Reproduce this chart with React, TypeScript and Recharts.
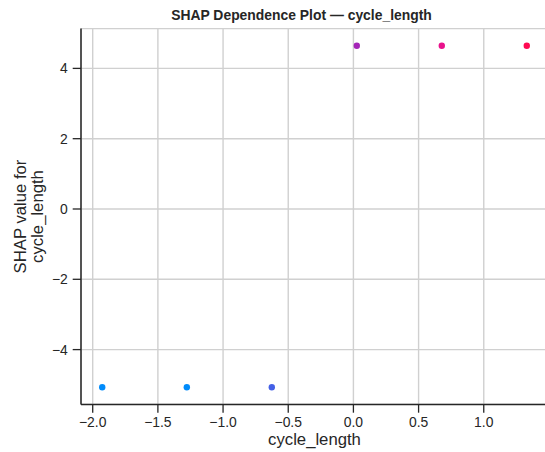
import React from "react";
import {
  ScatterChart,
  Scatter,
  XAxis,
  YAxis,
  CartesianGrid,
  Cell,
} from "recharts";

// Standardised cycle_length values and their SHAP contributions
const featureValues = [-1.927, -1.278, -0.626, 0.026, 0.678, 1.33];
const shapValues = [-5.073, -5.073, -5.073, 4.646, 4.646, 4.646];
// Colour of each point (interaction feature, blue = low, red = high)
const pointColors = ["#008bfb", "#008bfb", "#4460e6", "#a526b8", "#e9128c", "#ff0a52"];

const xTicks = [-2, -1.5, -1, -0.5, 0, 0.5, 1];
const yTicks = [-4, -2, 0, 2, 4];

const titleText = "SHAP Dependence Plot — cycle_length";
const xLabel = "cycle_length";
const yLabelLines = ["SHAP value for", "cycle_length"];

const data = featureValues.map((x, i) => ({ x, y: shapValues[i] }));

// 5% padding around the data range on both axes
const pad = (vals: number[]): [number, number] => {
  const lo = Math.min(...vals);
  const hi = Math.max(...vals);
  const m = (hi - lo) * 0.05;
  return [lo - m, hi + m];
};
const xDomain = pad(featureValues);
const yDomain = pad(shapValues);

const FONT = "'Liberation Sans', Arial, Helvetica, sans-serif";
const INK = "#262626";
const W = 545;
const H = 452;
const CHART_W = 548;
const PLOT_LEFT = 81;
const PLOT_TOP = 28.6;
const PLOT_BOTTOM = 404.4;

const fmtX = (v: number) => (v < 0 ? "\u2212" : "") + Math.abs(v).toFixed(1);
const fmtY = (v: number) => (v < 0 ? "\u2212" : "") + Math.abs(v).toString();

const tickStyle = { fontSize: 13.9, fill: INK, fontFamily: FONT };

export default function App() {
  const yMid = (PLOT_TOP + PLOT_BOTTOM) / 2;
  return (
    <div
      style={{
        position: "absolute",
        left: 0,
        top: 0,
        width: W,
        height: H,
        overflow: "hidden",
        background: "#ffffff",
      }}
    >
      <ScatterChart
        width={CHART_W}
        height={H}
        margin={{ top: PLOT_TOP, right: 0, bottom: 0, left: 0 }}
      >
        <CartesianGrid stroke="#d0d0d0" strokeWidth={1.4} />
        <XAxis
          type="number"
          dataKey="x"
          domain={xDomain}
          ticks={xTicks}
          tickFormatter={fmtX}
          allowDataOverflow
          height={H - PLOT_BOTTOM}
          tickSize={8.3}
          tickMargin={4.9}
          tick={tickStyle}
          axisLine={{ stroke: INK, strokeWidth: 1.5 }}
          tickLine={{ stroke: INK, strokeWidth: 1.3 }}
        />
        <YAxis
          type="number"
          dataKey="y"
          domain={yDomain}
          ticks={yTicks}
          tickFormatter={fmtY}
          allowDataOverflow
          width={PLOT_LEFT}
          tickSize={8.3}
          tickMargin={4.9}
          tick={tickStyle}
          axisLine={{ stroke: INK, strokeWidth: 1.5 }}
          tickLine={{ stroke: INK, strokeWidth: 1.3 }}
        />
        <Scatter
          data={data}
          isAnimationActive={false}
          shape={(p: any) => (
            <circle cx={p.cx} cy={p.cy} r={3.2} fill={p.fill} />
          )}
        >
          {data.map((_, i) => (
            <Cell key={i} fill={pointColors[i]} />
          ))}
        </Scatter>
      </ScatterChart>
      <svg
        width={W}
        height={H}
        style={{ position: "absolute", left: 0, top: 0, pointerEvents: "none" }}
      >
        <text
          x={301.5}
          y={20}
          textAnchor="middle"
          fontFamily={FONT}
          fontWeight="bold"
          fontSize={13.9}
          fill={INK}
        >
          {titleText}
        </text>
        <text
          x={(PLOT_LEFT + CHART_W) / 2}
          y={445}
          textAnchor="middle"
          fontFamily={FONT}
          fontSize={16.7}
          fill={INK}
        >
          {xLabel}
        </text>
        {yLabelLines.map((line, i) => (
          <text
            key={i}
            x={0}
            y={0}
            transform={`translate(${26 + i * 17}, ${yMid}) rotate(-90)`}
            textAnchor="middle"
            fontFamily={FONT}
            fontSize={16.7}
            fill={INK}
          >
            {line}
          </text>
        ))}
      </svg>
    </div>
  );
}
